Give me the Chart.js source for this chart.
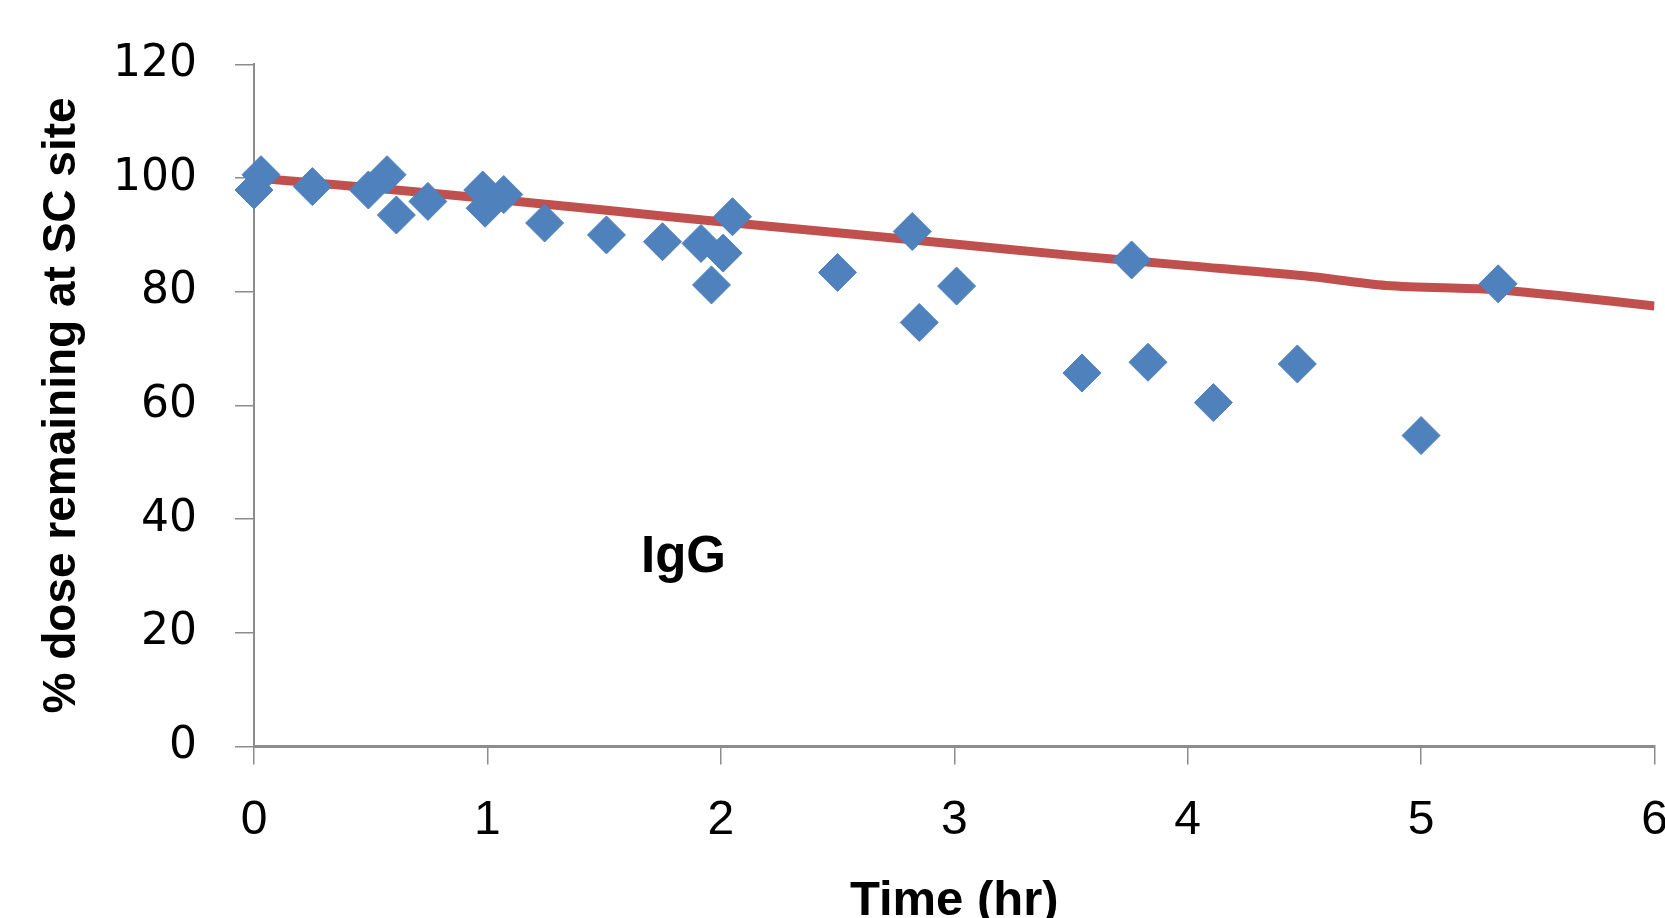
<!DOCTYPE html>
<html>
<head>
<meta charset="utf-8">
<script src="https://cdn.jsdelivr.net/npm/chart.js"></script>
<style>
  html, body { margin: 0; padding: 0; background: #fff; overflow: hidden; }
  #wrap { width: 1665px; height: 918px; overflow: hidden; }
</style>
</head>
<body>
<div id="wrap"><canvas id="chart" width="1700" height="950"></canvas></div>
<script>
// ====== DATA ======
const obsTime = [0, 0.03, 0.25, 0.49, 0.57, 0.61, 0.745, 0.98, 0.99, 1.07, 1.245, 1.51, 1.75, 1.915, 1.96, 2.01, 2.05,
  2.5, 2.82, 2.85, 3.01, 3.547, 3.76, 3.83, 4.11, 4.47, 5.0, 5.33];
const obsDose = [97.9, 100.6, 98.5, 97.9, 100.6, 93.5, 95.9, 97.9, 94.7, 97.1, 92.1, 90.0, 88.8, 88.5, 81.2, 86.8, 93.2,
  83.4, 90.6, 74.6, 81.0, 65.7, 85.6, 67.6, 60.5, 67.3, 54.7, 81.4];

const modelTime = [0, 0.5, 1, 1.5, 2, 2.5, 3, 3.5, 4, 4.5, 4.85, 5.3, 5.6, 6];
const modelDose = [100, 98.3, 96.4, 94.4, 92.3, 90.4, 88.4, 86.4, 84.6, 82.8, 81.1, 80.4, 79.3, 77.5];

const xTicks = [0, 1, 2, 3, 4, 5, 6];
const yTicks = [0, 20, 40, 60, 80, 100, 120];

const label = { text: "IgG", x: 1.84, y: 33.1 };

// ====== TEXT LABEL PLUGIN ======
const textLabel = {
  id: "textLabel",
  afterDatasetsDraw(chart) {
    const { ctx, scales } = chart;
    ctx.save();
    ctx.font = "bold 51px 'Liberation Sans', Arial, sans-serif";
    ctx.fillStyle = "#000";
    ctx.textAlign = "center";
    ctx.textBaseline = "middle";
    ctx.fillText(label.text, scales.x.getPixelForValue(label.x), scales.y.getPixelForValue(label.y));
    ctx.restore();
  }
};

const obsPoints = obsTime.map((t, i) => ({ x: t, y: obsDose[i] }));
const modelPoints = modelTime.map((t, i) => ({ x: t, y: modelDose[i] }));

new Chart(document.getElementById("chart"), {
  type: "scatter",
  data: {
    datasets: [
      {
        label: "Observed",
        data: obsPoints,
        order: 0,
        clip: false,
        pointStyle: "rectRot",
        pointRadius: 19,
        pointBackgroundColor: "#4F81BD",
        pointBorderColor: "#4F81BD",
        pointBorderWidth: 1,
        showLine: false
      },
      {
        label: "Model",
        type: "line",
        data: modelPoints,
        order: 1,
        borderColor: "#C0504D",
        borderWidth: 9,
        pointRadius: 0,
        tension: 0.3,
        fill: false
      }
    ]
  },
  options: {
    responsive: false,
    animation: false,
    layout: { padding: { top: 60.5, right: 45.5, bottom: 0, left: 0 } },
    plugins: { legend: { display: false }, tooltip: { enabled: false } },
    scales: {
      x: {
        type: "linear",
        min: 0,
        max: 6,
        afterBuildTicks: (s) => { s.ticks = xTicks.map(v => ({ value: v })); },
        afterFit: (s) => { s.height = 203.5; },
        grid: { drawOnChartArea: false, drawTicks: true, tickLength: 18, color: "#8c8c8c", lineWidth: 1.5 },
        border: { display: true, color: "#8c8c8c", width: 3 },
        ticks: {
          padding: 27,
          color: "#000",
          font: { family: "'Liberation Sans', Arial, sans-serif", size: 48 },
          maxRotation: 0
        },
        title: {
          display: true,
          text: "Time (hr)",
          color: "#000",
          font: { family: "'Liberation Sans', Arial, sans-serif", size: 49, weight: "bold" },
          padding: { top: 0, bottom: 19 }
        }
      },
      y: {
        type: "linear",
        min: 0,
        max: 120,
        afterBuildTicks: (s) => { s.ticks = yTicks.map(v => ({ value: v })); },
        afterFit: (s) => { s.width = 254; },
        grid: { drawOnChartArea: false, drawTicks: true, tickLength: 19, color: "#8c8c8c", lineWidth: 1.5 },
        border: { display: true, color: "#8c8c8c", width: 2 },
        ticks: {
          padding: 38,
          color: "#000",
          font: { family: "'DejaVu Sans', Verdana, sans-serif", size: 44 }
        },
        title: {
          display: true,
          text: "% dose remaining at SC site",
          color: "#000",
          font: { family: "'Liberation Sans', Arial, sans-serif", size: 46, weight: "bold" },
          padding: { top: 35, bottom: 0 }
        }
      }
    }
  },
  plugins: [textLabel]
});
</script>
</body>
</html>
